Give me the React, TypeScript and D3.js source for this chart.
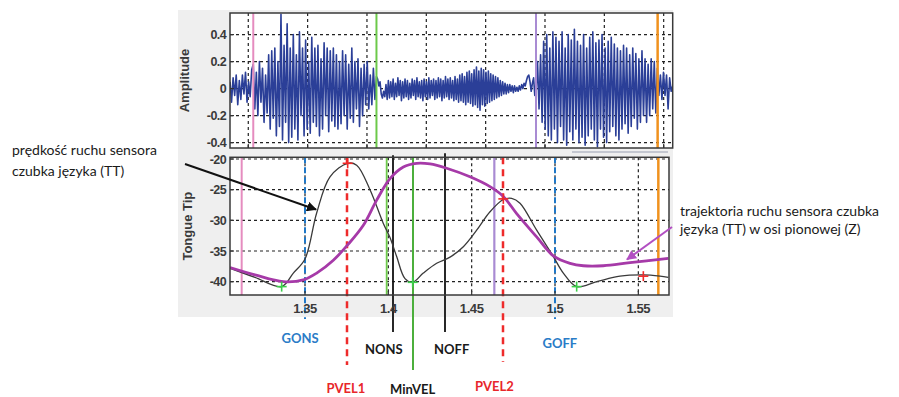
import React from 'react';
import * as d3 from 'd3';

// ---------- DATA ----------
const topGridTimes = [1.30, 1.35, 1.40, 1.45, 1.50, 1.55, 1.60, 1.65];
const ampTicks = [0.4, 0.2, 0, -0.2, -0.4];
const ampTickLabels = ['0.4', '0.2', '0', '-0.2', '-0.4'];
const timeTicks = [1.35, 1.4, 1.45, 1.5, 1.55];
const timeTickLabels = ['1.35', '1.4', '1.45', '1.5', '1.55'];
const ttTicks = [-20, -25, -30, -35, -40];
const ttTickLabels = ['-20', '-25', '-30', '-35', '-40'];

// audio waveform, split at the segment boundaries (times on the audio axis)
const waveBounds = [1.2846, 1.3042, 1.408, 1.5424, 1.6576];
const waveSeg0 = [0.05, -0.1, 0.08, -0.05, 0.1, -0.12, 0.06, -0.08, 0.1, -0.04, 0.12, -0.1, 0.05, -0.06, 0.14];
const waveSeg1 = [0.18, -0.15, 0.12, -0.2, 0.2, -0.1, 0.15, -0.25, 0.1, -0.18, 0.25, -0.3, 0.28, -0.22, 0.3, -0.35, 0.2, -0.28, 0.55, -0.38,
  0.32, -0.25, 0.48, -0.4, 0.3, -0.36, 0.4, -0.3, 0.25, -0.38, 0.42, -0.2, 0.3, -0.35, 0.36, -0.3, 0.2, -0.33, 0.38, -0.25,
  0.3, -0.28, 0.32, -0.35, 0.22, -0.3, 0.34, -0.2, 0.3, -0.32, 0.28, -0.24, 0.3, -0.28, 0.25, -0.3, 0.2, -0.26, 0.28, -0.2,
  0.25, -0.3, 0.18, -0.22, 0.3, -0.25, 0.2, -0.15, 0.22, -0.28, 0.15, -0.2, 0.18, -0.12, 0.2, -0.15, 0.1, -0.12, 0.15, -0.08];
const waveSeg2 = [0.09, 0.07, 0.02, 0.05, -0.04, -0.07, -0.02, -0.06, 0.03, -0.08,
  0.06, -0.07, 0.05, -0.06, 0.07, -0.08, 0.04, -0.06, 0.08, -0.05,
  0.06, -0.09, 0.05, -0.07, 0.07, -0.06, 0.06, -0.08, 0.04, -0.07,
  0.07, -0.05, 0.06, -0.08, 0.08, -0.06, 0.05, -0.07, 0.06, -0.09,
  0.07, -0.06, 0.05, -0.08, 0.08, -0.07, 0.06, -0.05, 0.07, -0.08,
  0.06, -0.07, 0.08, -0.06, 0.07, -0.09, 0.06, -0.07, 0.09, -0.06,
  0.07, -0.08, 0.08, -0.07, 0.06, -0.09, 0.09, -0.08, 0.07, -0.1,
  0.1, -0.09, 0.11, -0.1, 0.09, -0.12, 0.12, -0.1, 0.13, -0.11,
  0.11, -0.13, 0.14, -0.12, 0.16, -0.14, 0.13, -0.16, 0.15, -0.12,
  0.14, -0.13, 0.12, -0.11, 0.13, -0.1, 0.11, -0.09, 0.1, -0.08,
  0.09, -0.07, 0.08, -0.06,
  0.06, -0.05, 0.05, -0.04, 0.04, -0.04, 0.03, -0.03, 0.03, -0.02,
  0.02, -0.03, 0.02, -0.02, 0.01, -0.02, 0.02, -0.01, 0.03, 0.0,
  0.04, 0.02, 0.06, 0.09, 0.1, 0.05, -0.02, 0.04, 0.08, -0.05];
const waveSeg3 = [-0.05, 0.2, -0.15, 0.25, -0.25, 0.35, -0.3, 0.4, -0.35, 0.3, -0.38, 0.42, -0.3, 0.38, -0.4, 0.35, -0.28, 0.42, -0.38, 0.3,
  -0.42, 0.4, -0.32, 0.36, -0.38, 0.44, -0.3, 0.35, -0.4, 0.32, -0.36, 0.4, -0.42, 0.3, -0.35, 0.38, -0.3, 0.42, -0.38, 0.34,
  -0.43, 0.36, -0.3, 0.4, -0.36, 0.3, -0.4, 0.35, -0.32, 0.38, -0.28, 0.33, -0.35, 0.3, -0.38, 0.28, -0.3, 0.32, -0.26, 0.3,
  -0.33, 0.25, -0.28, 0.3, -0.22, 0.26, -0.3, 0.22, -0.25, 0.28, -0.2, 0.22, -0.25, 0.18, -0.2, 0.22, -0.15, 0.2, -0.18, 0.15,
  -0.05, 0.1, -0.08, 0.12, -0.05, 0.1, -0.15, 0.08, -0.02];

const audioMarkerNames = ['pink', 'green', 'purple', 'orange'];
const audioMarkerTimes = [1.3042, 1.408, 1.5424, 1.6449];

// tongue tip velocity (black thin)
const velT = [1.305, 1.320, 1.336, 1.343, 1.350, 1.357, 1.365, 1.3756, 1.381, 1.389, 1.397, 1.401, 1.405, 1.410, 1.4146,
  1.421, 1.429, 1.437, 1.445, 1.453, 1.461, 1.469, 1.474, 1.479, 1.489, 1.499, 1.505, 1.513, 1.525, 1.539, 1.553, 1.563, 1.568];
const velV = [-37.8, -39.3, -40.8, -38.6, -36.3, -28.8, -22.9, -20.7, -21.0, -25.0, -30.5, -32.8, -35.9, -39.5, -40.1,
  -38.6, -37.0, -36.0, -34.3, -31.6, -28.6, -26.6, -26.4, -27.2, -31.6, -35.9, -38.6, -40.8, -40.0, -39.1, -38.9, -39.1, -39.3];
// tongue tip vertical position (purple thick)
const posT = [1.305, 1.320, 1.337, 1.349, 1.357, 1.367, 1.3756, 1.385, 1.393, 1.401, 1.409, 1.417, 1.425, 1.435, 1.449,
  1.461, 1.469, 1.477, 1.489, 1.499, 1.509, 1.517, 1.529, 1.545, 1.568];
const posV = [-37.7, -38.9, -40.0, -39.7, -38.6, -36.5, -34.0, -30.8, -26.7, -23.2, -21.3, -20.7, -20.8, -21.5, -22.9,
  -24.5, -26.1, -28.9, -32.7, -35.8, -37.0, -37.4, -37.4, -36.9, -36.2];
const minT = [1.336, 1.4146, 1.513];
const minV = [-40.8, -40.1, -40.8];
const peakT = [1.3756, 1.469, 1.553];
const peakV = [-20.7, -26.5, -39.1];

const eventNames = ['pink', 'GONS', 'PVEL1', 'green', 'NONS', 'MinVEL', 'NOFF', 'purple', 'PVEL2', 'GOFF', 'orange'];
const eventTimes = [1.312, 1.35, 1.3752, 1.399, 1.4028, 1.4148, 1.434, 1.4636, 1.4688, 1.5, 1.562];

const labelTexts = ['GONS', 'NONS', 'NOFF', 'GOFF', 'PVEL1', 'MinVEL', 'PVEL2'];

// ---------- STYLES / LAYOUT ----------
const W = 899, H = 397;
const top = { x0: 230, x1: 672.7, y0: 13, y1: 148 };
const bot = { x0: 230, x1: 669, y0: 157.3, y1: 295 };

const eventStyle: Record<string, { color: string; w: number; dash?: string; ext: number; up?: number }> = {
  pink: { color: '#e58cbf', w: 2, ext: 0 },
  GONS: { color: '#1f78c8', w: 2, dash: '6,4', ext: 24 },
  PVEL1: { color: '#ee2b2b', w: 2.5, dash: '7,5', ext: 70 },
  green: { color: '#6cc94a', w: 1.8, ext: 0 },
  NONS: { color: '#111', w: 1.8, ext: 37, up: 2 },
  MinVEL: { color: '#4caf3c', w: 2, ext: 75 },
  NOFF: { color: '#111', w: 1.8, ext: 37, up: 4 },
  purple: { color: '#a98bd3', w: 2.2, ext: 0 },
  PVEL2: { color: '#ee2b2b', w: 2.5, dash: '7,5', ext: 67 },
  GOFF: { color: '#1f78c8', w: 2, dash: '6,4', ext: 24 },
  orange: { color: '#f0921e', w: 2.5, ext: 0 },
};
const audioMarkerColor: Record<string, string> = { pink: '#e58cbf', green: '#6cc94a', purple: '#a98bd3', orange: '#f0921e' };

const labelLayout: Record<string, { x: number; y: number; color: string }> = {
  GONS: { x: 281.5, y: 343, color: '#2a7cc7' },
  NONS: { x: 365, y: 354, color: '#1a1a1a' },
  NOFF: { x: 434, y: 354, color: '#1a1a1a' },
  GOFF: { x: 542.5, y: 348, color: '#2a7cc7' },
  PVEL1: { x: 326.5, y: 393, color: '#e8262a' },
  MinVEL: { x: 390, y: 393.5, color: '#1a1a1a' },
  PVEL2: { x: 475, y: 391, color: '#e8262a' },
};

const axisFont = '"Liberation Sans", Arial, sans-serif';
const noteFont = 'Lato, "Open Sans", sans-serif';

export default function App() {
  const xTop = d3.scaleLinear().domain([waveBounds[0], waveBounds[4]]).range([top.x0, top.x1]);
  const yTop = d3.scaleLinear().domain([-0.44, 0.56]).range([top.y1, top.y0]);
  const xBot = d3.scaleLinear().domain([1.305, 1.5684]).range([bot.x0, bot.x1]);
  const yBot = d3.scaleLinear().domain([-42.17, -19.72]).range([bot.y1, bot.y0]);

  const segs = [waveSeg0, waveSeg1, waveSeg2, waveSeg3];
  const wavePts: [number, number][] = [];
  segs.forEach((seg, s) => {
    const a = waveBounds[s], b = waveBounds[s + 1];
    seg.forEach((v, i) => wavePts.push([a + (i / seg.length) * (b - a), v]));
  });
  wavePts.push([waveBounds[4], 0.02]);

  const waveLine = d3.line<[number, number]>().x(d => xTop(d[0])).y(d => yTop(d[1]));
  const velLine = d3.line<number>().x((_, i) => xBot(velT[i])).y(d => yBot(d)).curve(d3.curveCatmullRom.alpha(0.5));
  const posLine = d3.line<number>().x((_, i) => xBot(posT[i])).y(d => yBot(d)).curve(d3.curveCatmullRom.alpha(0.5));

  const plus = (x: number, y: number, c: string, k: string) => (
    <g key={k} stroke={c} strokeWidth={1.6}>
      <line x1={x - 5} x2={x + 5} y1={y} y2={y} />
      <line x1={x} x2={x} y1={y - 5} y2={y + 5} />
    </g>
  );

  return (
    <svg width={W} height={H} style={{ position: 'absolute', left: 0, top: 0, background: '#fff' }}>
      <defs>
        <clipPath id="clipTop"><rect x={top.x0} y={top.y0} width={top.x1 - top.x0} height={top.y1 - top.y0} /></clipPath>
        <clipPath id="clipBot"><rect x={bot.x0} y={bot.y0} width={bot.x1 - bot.x0} height={bot.y1 - bot.y0} /></clipPath>
        <marker id="arrBlack" viewBox="0 0 10 10" refX="9" refY="5" markerWidth="5" markerHeight="5" orient="auto">
          <path d="M0,0 L10,5 L0,10 z" fill="#111" />
        </marker>
        <marker id="arrPurple" viewBox="0 0 10 10" refX="9" refY="5" markerWidth="5" markerHeight="5" orient="auto">
          <path d="M0,0 L10,5 L0,10 z" fill="#b24fc2" />
        </marker>
      </defs>

      {/* figure background */}
      <rect x={178} y={10} width={495} height={307} fill="#efefef" />

      {/* ---------- TOP PANEL ---------- */}
      <rect x={top.x0} y={top.y0} width={top.x1 - top.x0} height={top.y1 - top.y0} fill="#fff" />
      <g stroke="#222" strokeWidth={1.2} strokeDasharray="3,3">
        {topGridTimes.map(t => <line key={t} x1={xTop(t)} x2={xTop(t)} y1={top.y0} y2={top.y1} />)}
        {ampTicks.map(v => <line key={v} x1={top.x0} x2={top.x1} y1={yTop(v)} y2={yTop(v)} />)}
      </g>
      <g clipPath="url(#clipTop)">
        <path d={waveLine(wavePts) || ''} fill="none" stroke="#2b3f98" strokeWidth={1.6} strokeLinejoin="round" />
      </g>
      {audioMarkerNames.map((n, i) => (
        <line key={n} x1={xTop(audioMarkerTimes[i])} x2={xTop(audioMarkerTimes[i])} y1={top.y0} y2={top.y1}
          stroke={audioMarkerColor[n]} strokeWidth={n === 'orange' ? 2.5 : 2} />
      ))}
      <rect x={top.x0} y={top.y0} width={top.x1 - top.x0} height={top.y1 - top.y0} fill="none" stroke="#3a3a3a" strokeWidth={1.5} />
      {ampTicks.map(v => <line key={v} x1={top.x0} x2={top.x0 + 4} y1={yTop(v)} y2={yTop(v)} stroke="#333" strokeWidth={1.2} />)}
      {topGridTimes.map(t => <line key={t} x1={xTop(t)} x2={xTop(t)} y1={top.y1} y2={top.y1 - 4} stroke="#333" strokeWidth={1.2} />)}
      {ampTicks.map((v, i) => (
        <text key={v} x={226} y={yTop(v) + 4.5} textAnchor="end" fontFamily={axisFont} fontWeight="bold" fontSize={12.5}
          letterSpacing={-0.6} fill="#3a3a3a">{ampTickLabels[i]}</text>
      ))}
      <text transform={`translate(189,${(top.y0 + top.y1) / 2}) rotate(-90)`} textAnchor="middle" fontFamily={axisFont}
        fontWeight="bold" fontSize={13} fill="#3a3a3a">Amplitude</text>
      <line x1={572} x2={668} y1={152} y2={152} stroke="#b6bac6" strokeWidth={1.5} />

      {/* ---------- BOTTOM PANEL ---------- */}
      <rect x={bot.x0} y={bot.y0} width={bot.x1 - bot.x0} height={bot.y1 - bot.y0} fill="#fff" />
      <g stroke="#222" strokeWidth={1.2} strokeDasharray="3,3">
        {timeTicks.map(t => <line key={t} x1={xBot(t)} x2={xBot(t)} y1={bot.y0} y2={bot.y1} />)}
        {ttTicks.map(v => <line key={v} x1={bot.x0} x2={bot.x1} y1={yBot(v)} y2={yBot(v)} />)}
      </g>
      {eventNames.map((n, i) => {
        const s = eventStyle[n];
        const x = xBot(eventTimes[i]);
        return <line key={n} x1={x} x2={x} y1={bot.y0 - (s.up || 0)} y2={bot.y1 + s.ext} stroke={s.color}
          strokeWidth={s.w} strokeDasharray={s.dash} />;
      })}
      <g clipPath="url(#clipBot)">
        <path d={velLine(velV) || ''} fill="none" stroke="#3a3a3a" strokeWidth={1.3} />
        <path d={posLine(posV) || ''} fill="none" stroke="#a63aa8" strokeWidth={2.8} strokeLinejoin="round" />
      </g>
      {minT.map((t, i) => plus(xBot(t), yBot(minV[i]), '#3ccf4a', 'm' + i))}
      {peakT.map((t, i) => plus(xBot(t), yBot(peakV[i]), '#f02a2a', 'p' + i))}
      <rect x={bot.x0} y={bot.y0} width={bot.x1 - bot.x0} height={bot.y1 - bot.y0} fill="none" stroke="#3a3a3a" strokeWidth={1.5} />
      {ttTicks.map(v => <line key={v} x1={bot.x0} x2={bot.x0 + 4} y1={yBot(v)} y2={yBot(v)} stroke="#333" strokeWidth={1.2} />)}
      {timeTicks.map(t => <line key={t} x1={xBot(t)} x2={xBot(t)} y1={bot.y1} y2={bot.y1 - 4} stroke="#333" strokeWidth={1.2} />)}
      {ttTicks.map((v, i) => (
        <text key={v} x={226} y={yBot(v) + 4.5} textAnchor="end" fontFamily={axisFont} fontWeight="bold" fontSize={12.5}
          letterSpacing={-0.6} fill="#3a3a3a">{ttTickLabels[i]}</text>
      ))}
      {timeTicks.map((t, i) => (
        <text key={t} x={xBot(t)} y={313} textAnchor="middle" fontFamily={axisFont} fontWeight="bold" fontSize={13}
          letterSpacing={-0.4} fill="#3a3a3a">{timeTickLabels[i]}</text>
      ))}
      <text transform={`translate(192,${(bot.y0 + bot.y1) / 2}) rotate(-90)`} textAnchor="middle" fontFamily={axisFont}
        fontWeight="bold" fontSize={13} fill="#3a3a3a">Tongue Tip</text>

      {/* ---------- ANNOTATIONS ---------- */}
      <text fontFamily={noteFont} fontSize={14} fill="#1a1a1a">
        <tspan x={12} y={155}>prędkość ruchu sensora</tspan>
        <tspan x={12} y={176}>czubka języka (TT)</tspan>
      </text>
      <line x1={185} y1={164} x2={316} y2={209.5} stroke="#111" strokeWidth={2} markerEnd="url(#arrBlack)" />

      <text fontFamily={noteFont} fontSize={14} fill="#1a1a1a">
        <tspan x={680} y={216}>trajektoria ruchu sensora czubka</tspan>
        <tspan x={680} y={234}>języka (TT) w osi pionowej (Z)</tspan>
      </text>
      <line x1={672} y1={227} x2={627} y2={259.5} stroke="#b24fc2" strokeWidth={2} markerEnd="url(#arrPurple)" />

      {labelTexts.map(l => (
        <text key={l} x={labelLayout[l].x} y={labelLayout[l].y} fontFamily={noteFont} fontWeight="bold" fontSize={13}
          fill={labelLayout[l].color}>{l}</text>
      ))}
    </svg>
  );
}
